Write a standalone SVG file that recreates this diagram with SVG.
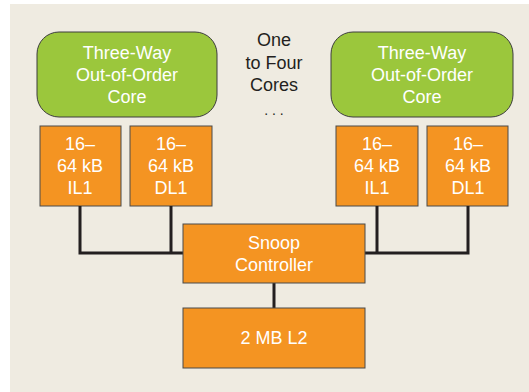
<svg xmlns="http://www.w3.org/2000/svg" width="529" height="392" viewBox="0 0 529 392">
<style>
.core{fill:#9bc73c;stroke:#3d3d3d;stroke-width:1}
.box{fill:#f49422;stroke:#4a4a4a;stroke-width:1}
.t{font-family:"Liberation Sans",Arial,sans-serif;font-size:18px;fill:#ffffff;text-anchor:middle}
.d{font-family:"Liberation Sans",Arial,sans-serif;font-size:18px;fill:#231f20;text-anchor:middle}
.wire{fill:none;stroke:#231f20;stroke-width:3}
</style>
<rect x="0" y="0" width="529" height="392" fill="#ffffff"/>
<rect x="10" y="4" width="519" height="388" fill="#efebe1"/>
<g id="core-left"><rect class="core" x="37" y="32" width="180" height="85" rx="22"/>
<text class="t" x="127" y="59">Three-Way</text><text class="t" x="127" y="81">Out-of-Order</text><text class="t" x="127" y="103">Core</text></g>
<g id="core-right"><rect class="core" x="331" y="32" width="182" height="85" rx="22"/>
<text class="t" x="422" y="59">Three-Way</text><text class="t" x="422" y="81">Out-of-Order</text><text class="t" x="422" y="103">Core</text></g>
<g id="label-cores"><text class="d" x="274" y="46">One</text><text class="d" x="274" y="69">to Four</text><text class="d" x="274" y="91">Cores</text><text class="d" x="274" y="115" style="font-size:14px">. . .</text></g>
<g id="il1-left"><rect class="box" x="40" y="126" width="81" height="80"/>
<text class="t" x="80" y="150">16–</text><text class="t" x="80" y="172">64 kB</text><text class="t" x="80" y="194">IL1</text></g>
<g id="dl1-left"><rect class="box" x="130" y="126" width="82" height="80"/>
<text class="t" x="171" y="150">16–</text><text class="t" x="171" y="172">64 kB</text><text class="t" x="171" y="194">DL1</text></g>
<g id="il1-right"><rect class="box" x="336" y="126" width="82" height="80"/>
<text class="t" x="377" y="150">16–</text><text class="t" x="377" y="172">64 kB</text><text class="t" x="377" y="194">IL1</text></g>
<g id="dl1-right"><rect class="box" x="427" y="126" width="81" height="80"/>
<text class="t" x="468" y="150">16–</text><text class="t" x="468" y="172">64 kB</text><text class="t" x="468" y="194">DL1</text></g>
<g id="connectors">
<polyline class="wire" points="80,206 80,253 183,253"/>
<line class="wire" x1="171" y1="206" x2="171" y2="253"/>
<polyline class="wire" points="468,206 468,253 365,253"/>
<line class="wire" x1="377" y1="206" x2="377" y2="253"/>
<line class="wire" x1="274" y1="283" x2="274" y2="308"/>
</g>
<g id="snoop"><rect class="box" x="183" y="224" width="182" height="59"/>
<text class="t" x="274" y="249">Snoop</text><text class="t" x="274" y="271">Controller</text></g>
<g id="l2"><rect class="box" x="183" y="308" width="182" height="60"/>
<text class="t" x="274" y="344">2 MB L2</text></g>
</svg>
